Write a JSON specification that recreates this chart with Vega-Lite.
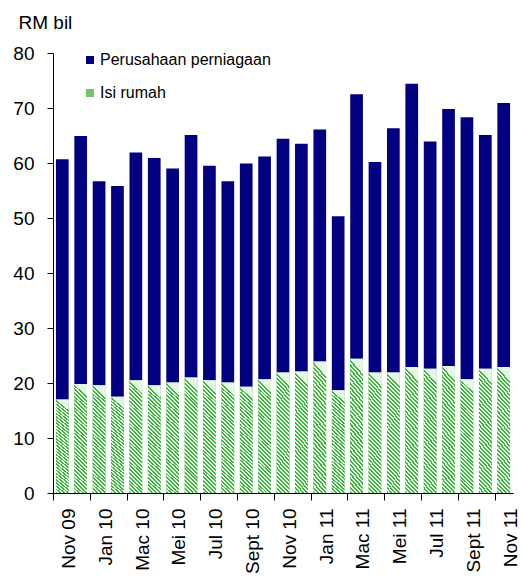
{
  "$schema": "https://vega.github.io/schema/vega-lite/v6.json",
  "width": 460,
  "height": 440,
  "autosize": {"type": "none"},
  "padding": {"left": 53, "top": 53, "right": 10, "bottom": 86},
  "background": "white",
  "config": {
    "view": {"stroke": null},
    "font": "Liberation Sans",
    "axis": {"labelFont": "Liberation Sans", "titleFont": "Liberation Sans", "labelColor": "#000", "titleColor": "#000", "domainColor": "#000", "tickColor": "#000", "domainWidth": 1, "tickWidth": 1, "grid": false},
    "legend": {"labelFont": "Liberation Sans", "labelColor": "#000"}
  },
  "data": {
    "values": [
      {"month": "Nov 09", "series": "Isi rumah", "value": 17.0}, {"month": "Nov 09", "series": "Perusahaan perniagaan", "value": 43.7},
      {"month": "Dis 09", "series": "Isi rumah", "value": 19.8}, {"month": "Dis 09", "series": "Perusahaan perniagaan", "value": 45.1},
      {"month": "Jan 10", "series": "Isi rumah", "value": 19.6}, {"month": "Jan 10", "series": "Perusahaan perniagaan", "value": 37.1},
      {"month": "Feb 10", "series": "Isi rumah", "value": 17.5}, {"month": "Feb 10", "series": "Perusahaan perniagaan", "value": 38.3},
      {"month": "Mac 10", "series": "Isi rumah", "value": 20.5}, {"month": "Mac 10", "series": "Perusahaan perniagaan", "value": 41.4},
      {"month": "Apr 10", "series": "Isi rumah", "value": 19.6}, {"month": "Apr 10", "series": "Perusahaan perniagaan", "value": 41.3},
      {"month": "Mei 10", "series": "Isi rumah", "value": 20.1}, {"month": "Mei 10", "series": "Perusahaan perniagaan", "value": 38.9},
      {"month": "Jun 10", "series": "Isi rumah", "value": 21.0}, {"month": "Jun 10", "series": "Perusahaan perniagaan", "value": 44.1},
      {"month": "Jul 10", "series": "Isi rumah", "value": 20.5}, {"month": "Jul 10", "series": "Perusahaan perniagaan", "value": 39.0},
      {"month": "Ogos 10", "series": "Isi rumah", "value": 20.1}, {"month": "Ogos 10", "series": "Perusahaan perniagaan", "value": 36.6},
      {"month": "Sept 10", "series": "Isi rumah", "value": 19.3}, {"month": "Sept 10", "series": "Perusahaan perniagaan", "value": 40.6},
      {"month": "Okt 10", "series": "Isi rumah", "value": 20.7}, {"month": "Okt 10", "series": "Perusahaan perniagaan", "value": 40.5},
      {"month": "Nov 10", "series": "Isi rumah", "value": 21.9}, {"month": "Nov 10", "series": "Perusahaan perniagaan", "value": 42.5},
      {"month": "Dis 10", "series": "Isi rumah", "value": 22.1}, {"month": "Dis 10", "series": "Perusahaan perniagaan", "value": 41.4},
      {"month": "Jan 11", "series": "Isi rumah", "value": 23.9}, {"month": "Jan 11", "series": "Perusahaan perniagaan", "value": 42.2},
      {"month": "Feb 11", "series": "Isi rumah", "value": 18.7}, {"month": "Feb 11", "series": "Perusahaan perniagaan", "value": 31.6},
      {"month": "Mac 11", "series": "Isi rumah", "value": 24.4}, {"month": "Mac 11", "series": "Perusahaan perniagaan", "value": 48.1},
      {"month": "Apr 11", "series": "Isi rumah", "value": 21.9}, {"month": "Apr 11", "series": "Perusahaan perniagaan", "value": 38.3},
      {"month": "Mei 11", "series": "Isi rumah", "value": 21.9}, {"month": "Mei 11", "series": "Perusahaan perniagaan", "value": 44.4},
      {"month": "Jun 11", "series": "Isi rumah", "value": 22.9}, {"month": "Jun 11", "series": "Perusahaan perniagaan", "value": 51.5},
      {"month": "Jul 11", "series": "Isi rumah", "value": 22.6}, {"month": "Jul 11", "series": "Perusahaan perniagaan", "value": 41.3},
      {"month": "Ogos 11", "series": "Isi rumah", "value": 23.1}, {"month": "Ogos 11", "series": "Perusahaan perniagaan", "value": 46.7},
      {"month": "Sept 11", "series": "Isi rumah", "value": 20.7}, {"month": "Sept 11", "series": "Perusahaan perniagaan", "value": 47.6},
      {"month": "Okt 11", "series": "Isi rumah", "value": 22.6}, {"month": "Okt 11", "series": "Perusahaan perniagaan", "value": 42.5},
      {"month": "Nov 11", "series": "Isi rumah", "value": 22.9}, {"month": "Nov 11", "series": "Perusahaan perniagaan", "value": 48.0}
    ]
  },
  "encoding": {
    "x": {
      "field": "month",
      "type": "nominal",
      "scale": {
        "domain": ["Nov 09", "Dis 09", "Jan 10", "Feb 10", "Mac 10", "Apr 10", "Mei 10", "Jun 10", "Jul 10", "Ogos 10", "Sept 10", "Okt 10", "Nov 10", "Dis 10", "Jan 11", "Feb 11", "Mac 11", "Apr 11", "Mei 11", "Jun 11", "Jul 11", "Ogos 11", "Sept 11", "Okt 11", "Nov 11"],
        "paddingInner": 0.31,
        "paddingOuter": 0.16
      },
      "axis": {
        "title": null,
        "values": ["Nov 09", "Jan 10", "Mac 10", "Mei 10", "Jul 10", "Sept 10", "Nov 10", "Jan 11", "Mac 11", "Mei 11", "Jul 11", "Sept 11", "Nov 11"],
        "bandPosition": 0,
        "tickOffset": -2.85,
        "labelOffset": 9.2,
        "labelAngle": -90,
        "labelAlign": "right",
        "labelBaseline": "middle",
        "labelFontSize": 19,
        "labelPadding": 8,
        "tickSize": 7
      }
    },
    "y": {
      "field": "value",
      "type": "quantitative",
      "scale": {"domain": [0, 80]},
      "axis": {
        "values": [0, 10, 20, 30, 40, 50, 60, 70, 80],
        "title": "RM bil",
        "titleAngle": 0,
        "titleAlign": "left",
        "titleBaseline": "alphabetic",
        "titleX": -35,
        "titleY": -25,
        "titleFontSize": 19,
        "titleFontWeight": "normal",
        "labelFontSize": 19,
        "labelPadding": 13,
        "tickSize": 6
      }
    }
  },
  "layer": [
    {
      "mark": {"type": "bar"},
      "encoding": {
        "color": {
          "field": "series",
          "type": "nominal",
          "scale": {"domain": ["Perusahaan perniagaan", "Isi rumah"], "range": ["#000080", "#6cc66c"]},
          "legend": {
            "title": null,
            "orient": "none",
            "legendX": 29,
            "legendY": -1,
            "padding": 0,
            "symbolType": "square",
            "symbolSize": 64,
            "symbolStrokeWidth": 0,
            "labelFontSize": 16,
            "labelLimit": 400,
            "labelOffset": 2,
            "rowPadding": 17
          }
        },
        "order": {"field": "series", "sort": "ascending"}
      }
    },
    {
      "transform": [{"filter": "datum.series === 'Isi rumah'"}],
      "mark": {
        "type": "bar",
        "fill": {
          "gradient": "linear",
          "x1": 0, "y1": 1, "x2": 0.11, "y2": 0,
          "stops": [
            {"offset": 0, "color": "#40b040"}, {"offset": 0.0167, "color": "#40b040"}, {"offset": 0.0167, "color": "#e6f7e6"}, {"offset": 0.0333, "color": "#e6f7e6"},
            {"offset": 0.0333, "color": "#40b040"}, {"offset": 0.05, "color": "#40b040"}, {"offset": 0.05, "color": "#e6f7e6"}, {"offset": 0.0667, "color": "#e6f7e6"},
            {"offset": 0.0667, "color": "#40b040"}, {"offset": 0.0833, "color": "#40b040"}, {"offset": 0.0833, "color": "#e6f7e6"}, {"offset": 0.1, "color": "#e6f7e6"},
            {"offset": 0.1, "color": "#40b040"}, {"offset": 0.1167, "color": "#40b040"}, {"offset": 0.1167, "color": "#e6f7e6"}, {"offset": 0.1333, "color": "#e6f7e6"},
            {"offset": 0.1333, "color": "#40b040"}, {"offset": 0.15, "color": "#40b040"}, {"offset": 0.15, "color": "#e6f7e6"}, {"offset": 0.1667, "color": "#e6f7e6"},
            {"offset": 0.1667, "color": "#40b040"}, {"offset": 0.1833, "color": "#40b040"}, {"offset": 0.1833, "color": "#e6f7e6"}, {"offset": 0.2, "color": "#e6f7e6"},
            {"offset": 0.2, "color": "#40b040"}, {"offset": 0.2167, "color": "#40b040"}, {"offset": 0.2167, "color": "#e6f7e6"}, {"offset": 0.2333, "color": "#e6f7e6"},
            {"offset": 0.2333, "color": "#40b040"}, {"offset": 0.25, "color": "#40b040"}, {"offset": 0.25, "color": "#e6f7e6"}, {"offset": 0.2667, "color": "#e6f7e6"},
            {"offset": 0.2667, "color": "#40b040"}, {"offset": 0.2833, "color": "#40b040"}, {"offset": 0.2833, "color": "#e6f7e6"}, {"offset": 0.3, "color": "#e6f7e6"},
            {"offset": 0.3, "color": "#40b040"}, {"offset": 0.3167, "color": "#40b040"}, {"offset": 0.3167, "color": "#e6f7e6"}, {"offset": 0.3333, "color": "#e6f7e6"},
            {"offset": 0.3333, "color": "#40b040"}, {"offset": 0.35, "color": "#40b040"}, {"offset": 0.35, "color": "#e6f7e6"}, {"offset": 0.3667, "color": "#e6f7e6"},
            {"offset": 0.3667, "color": "#40b040"}, {"offset": 0.3833, "color": "#40b040"}, {"offset": 0.3833, "color": "#e6f7e6"}, {"offset": 0.4, "color": "#e6f7e6"},
            {"offset": 0.4, "color": "#40b040"}, {"offset": 0.4167, "color": "#40b040"}, {"offset": 0.4167, "color": "#e6f7e6"}, {"offset": 0.4333, "color": "#e6f7e6"},
            {"offset": 0.4333, "color": "#40b040"}, {"offset": 0.45, "color": "#40b040"}, {"offset": 0.45, "color": "#e6f7e6"}, {"offset": 0.4667, "color": "#e6f7e6"},
            {"offset": 0.4667, "color": "#40b040"}, {"offset": 0.4833, "color": "#40b040"}, {"offset": 0.4833, "color": "#e6f7e6"}, {"offset": 0.5, "color": "#e6f7e6"},
            {"offset": 0.5, "color": "#40b040"}, {"offset": 0.5167, "color": "#40b040"}, {"offset": 0.5167, "color": "#e6f7e6"}, {"offset": 0.5333, "color": "#e6f7e6"},
            {"offset": 0.5333, "color": "#40b040"}, {"offset": 0.55, "color": "#40b040"}, {"offset": 0.55, "color": "#e6f7e6"}, {"offset": 0.5667, "color": "#e6f7e6"},
            {"offset": 0.5667, "color": "#40b040"}, {"offset": 0.5833, "color": "#40b040"}, {"offset": 0.5833, "color": "#e6f7e6"}, {"offset": 0.6, "color": "#e6f7e6"},
            {"offset": 0.6, "color": "#40b040"}, {"offset": 0.6167, "color": "#40b040"}, {"offset": 0.6167, "color": "#e6f7e6"}, {"offset": 0.6333, "color": "#e6f7e6"},
            {"offset": 0.6333, "color": "#40b040"}, {"offset": 0.65, "color": "#40b040"}, {"offset": 0.65, "color": "#e6f7e6"}, {"offset": 0.6667, "color": "#e6f7e6"},
            {"offset": 0.6667, "color": "#40b040"}, {"offset": 0.6833, "color": "#40b040"}, {"offset": 0.6833, "color": "#e6f7e6"}, {"offset": 0.7, "color": "#e6f7e6"},
            {"offset": 0.7, "color": "#40b040"}, {"offset": 0.7167, "color": "#40b040"}, {"offset": 0.7167, "color": "#e6f7e6"}, {"offset": 0.7333, "color": "#e6f7e6"},
            {"offset": 0.7333, "color": "#40b040"}, {"offset": 0.75, "color": "#40b040"}, {"offset": 0.75, "color": "#e6f7e6"}, {"offset": 0.7667, "color": "#e6f7e6"},
            {"offset": 0.7667, "color": "#40b040"}, {"offset": 0.7833, "color": "#40b040"}, {"offset": 0.7833, "color": "#e6f7e6"}, {"offset": 0.8, "color": "#e6f7e6"},
            {"offset": 0.8, "color": "#40b040"}, {"offset": 0.8167, "color": "#40b040"}, {"offset": 0.8167, "color": "#e6f7e6"}, {"offset": 0.8333, "color": "#e6f7e6"},
            {"offset": 0.8333, "color": "#40b040"}, {"offset": 0.85, "color": "#40b040"}, {"offset": 0.85, "color": "#e6f7e6"}, {"offset": 0.8667, "color": "#e6f7e6"},
            {"offset": 0.8667, "color": "#40b040"}, {"offset": 0.8833, "color": "#40b040"}, {"offset": 0.8833, "color": "#e6f7e6"}, {"offset": 0.9, "color": "#e6f7e6"},
            {"offset": 0.9, "color": "#40b040"}, {"offset": 0.9167, "color": "#40b040"}, {"offset": 0.9167, "color": "#e6f7e6"}, {"offset": 0.9333, "color": "#e6f7e6"},
            {"offset": 0.9333, "color": "#40b040"}, {"offset": 0.95, "color": "#40b040"}, {"offset": 0.95, "color": "#e6f7e6"}, {"offset": 0.9667, "color": "#e6f7e6"},
            {"offset": 0.9667, "color": "#40b040"}, {"offset": 0.9833, "color": "#40b040"}, {"offset": 0.9833, "color": "#e6f7e6"}, {"offset": 1, "color": "#e6f7e6"}
          ]
        }
      }
    }
  ]
}
